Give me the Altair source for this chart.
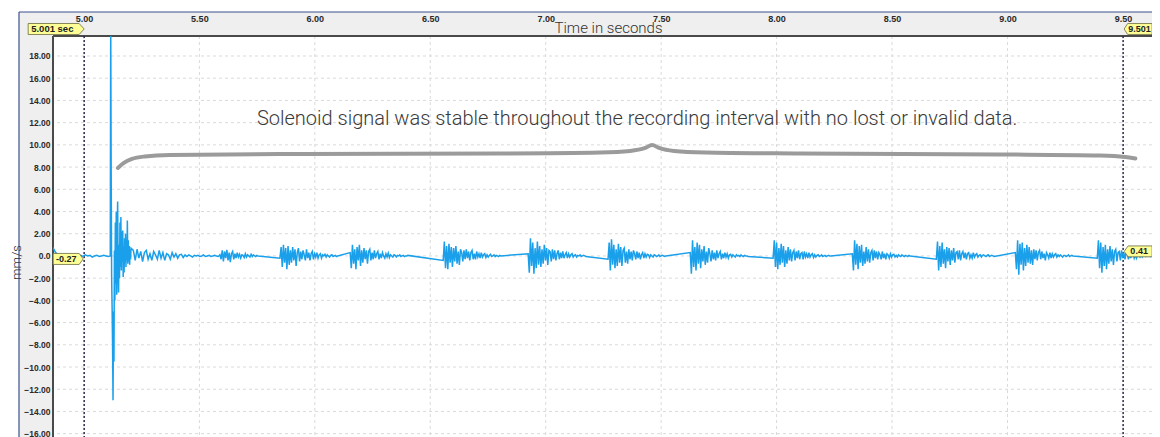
import altair as alt
import pandas as pd

# ---------------- axis ticks / domains ----------------
x_ticks = [5.0, 5.5, 6.0, 6.5, 7.0, 7.5, 8.0, 8.5, 9.0, 9.5]
y_ticks = [-16, -14, -12, -10, -8, -6, -4, -2, 0, 2, 4, 6, 8, 10, 12, 14, 16, 18]
time_domain = [4.866, 9.626]
vel_domain = [-16.3, 19.8]

# ---------------- signal (mm/s) ----------------
pre_trigger = [0.75, 0.35, 0.1, -0.15, -0.05, 0.1, -0.1, 0.05, -0.05, 0.1, 0.0, -0.1, 0.05,
               -0.05, 0.1, 0.0, 0.05, -0.1, 0.0, 0.05, -0.05, 0.0, 0.05, 0.0, -0.05]
transient = [0.0, 21.0, 7.5, -2.0, -4.6, -8.0, -13.0, -5.0, -9.5, 0.5,
             -4.0, 3.0, -2.5, 4.0, -3.5, 2.0, 4.9, -1.5, -3.3, 1.0,
             -2.0, 3.0, -1.0, 3.5, -1.3, 2.2, -0.5, 2.3, -1.9, 0.8,
             -1.5, 1.6, -0.6, 2.0, -1.0, 1.2, -0.4, 3.2, -0.7, 1.4,
             -0.5, 0.9, -0.8, 0.6, -0.3, 0.7]
ring_down = [0.5, -0.4, 0.6, -0.2, 0.4, -0.5, 0.3, 0.5, -0.3, 0.2, -0.4, 0.4, 0.1, -0.3, 0.5,
             -0.2, 0.3, -0.4, 0.2, 0.1, -0.3, 0.3, -0.1, 0.2, -0.2, 0.1, 0.15, -0.15, 0.1, -0.05,
             0.1, 0.0, -0.1, 0.05, 0.0, 0.05, -0.05, 0.0, 0.1, -0.05, 0.0, 0.05, -0.05, 0.0, 0.05,
             0.0, -0.05]
burst_01 = [0.1, -0.3, 0.5, -0.5, 0.4, -0.2, 0.55, -0.4, 0.3, -0.55, 0.2, 0.4, -0.3, 0.2, -0.2,
            0.3, -0.1, 0.15, -0.2, 0.1, 0.05, -0.15, 0.2, -0.1, 0.1, 0.0, -0.1, 0.15, -0.05, 0.1,
            0.0, -0.05, 0.05, 0.0]
burst_02 = [-0.2, 0.8, -1.0, 1.0, -0.6, 0.7, -1.2, 0.9, -0.8, 0.5,
            -0.6, 0.8, -0.4, 0.6, -0.9, 0.3, 0.7, -0.5, 0.4,
            -0.3, 0.5, 0.1, -0.4, 0.6, -0.2, 0.3, -0.4, 0.2, 0.4, -0.3, 0.2, -0.1, 0.3, -0.2, 0.1,
            0.2, -0.2, 0.1, 0.0, 0.15, -0.1, 0.1, 0.0, -0.1, 0.05, 0.1, -0.05, 0.0, 0.05, -0.05, 0.0]
burst_03 = [0.3, -1.1, 1.0, -0.7, 0.6, -1.2, 0.8, -0.4, 1.0, -0.9,
            0.5, -0.6, 0.7, -0.3, 0.5, -0.7, 0.4, 0.6, -0.4,
            0.3, -0.3, 0.5, -0.2, 0.2, 0.4, -0.3, 0.2, -0.2, 0.3, 0.0, -0.2, 0.2, -0.1, 0.25, -0.15,
            0.1, 0.0, -0.1, 0.1, 0.05, -0.1, 0.05, 0.0, 0.1, -0.05, 0.0, 0.05, -0.05, 0.0, 0.0, 0.05]
burst_04 = [-0.4, 1.3, -1.1, 0.9, -1.2, 1.1, -0.6, 0.8, -1.0, 0.7,
            -0.5, 0.9, -0.7, 0.4, -0.8, 0.6, 0.3, -0.5, 0.5,
            -0.3, 0.6, -0.2, 0.4, -0.4, 0.3, 0.5, -0.3, 0.2, -0.3, 0.4, -0.1, 0.2, -0.2, 0.3, -0.1,
            0.1, 0.2, -0.15, 0.1, -0.1, 0.05, 0.15, -0.05, 0.0, 0.1, -0.05, 0.05, 0.0, -0.05, 0.05, 0.0]
burst_05 = [0.2, -1.5, 1.6, -0.9, 1.2, -1.6, 0.7, -1.1, 1.3, -0.8,
            0.9, -1.0, 0.6, -0.7, 1.0, -0.4, 0.7, -0.8, 0.5,
            0.4, -0.5, 0.6, -0.3, 0.5, -0.4, 0.2, 0.5, -0.3, 0.3, -0.2, 0.4, -0.2, 0.1, 0.3, -0.2,
            0.2, -0.1, 0.1, 0.2, -0.1, 0.05, 0.1, -0.1, 0.05, 0.0, 0.1, -0.05, 0.0, 0.05, 0.0, -0.05]
burst_06 = [-0.3, 1.2, -1.3, 1.5, -0.8, 1.0, -1.1, 0.6, -0.9, 1.1,
            -0.6, 0.8, -0.9, 0.5, 0.7, -0.6, 0.4, -0.7, 0.6,
            -0.3, 0.4, -0.4, 0.5, 0.2, -0.3, 0.4, -0.2, 0.3, -0.3, 0.1, 0.3, -0.2, 0.2, -0.1, 0.15,
            0.1, -0.15, 0.1, 0.0, -0.1, 0.1, 0.05, -0.05, 0.0, 0.1, -0.05, 0.0, 0.05, 0.0, -0.05, 0.0]
burst_07 = [0.3, -1.6, 1.4, -1.0, 0.8, -1.3, 1.2, -0.7, 1.0, -1.1,
            0.6, -0.5, 0.9, -0.8, 0.4, -0.6, 0.7, 0.2, -0.5,
            0.5, -0.3, 0.3, -0.4, 0.5, -0.2, 0.2, 0.4, -0.3, 0.2, -0.2, 0.3, -0.1, 0.2, -0.2, 0.1,
            0.15, -0.1, 0.1, 0.0, -0.1, 0.1, 0.0, 0.05, -0.05, 0.1, 0.0, -0.05, 0.05, 0.0, 0.0, -0.05]
burst_08 = [-0.2, 1.4, -1.0, 1.2, -1.2, 0.7, -0.8, 1.1, -0.6, 0.9,
            -1.0, 0.5, -0.7, 0.8, -0.4, 0.6, -0.5, 0.3, 0.5,
            -0.4, 0.4, -0.2, 0.5, -0.3, 0.2, 0.3, -0.3, 0.4, -0.1, 0.2, -0.2, 0.3, -0.1, 0.1, 0.2,
            -0.15, 0.1, -0.1, 0.05, 0.1, -0.05, 0.0, 0.1, -0.05, 0.0, 0.05, -0.05, 0.0, 0.05, 0.0, 0.0]
burst_09 = [0.2, -1.3, 1.4, -0.8, 1.1, -1.2, 0.9, -0.6, 1.0, -0.9,
            0.4, -0.7, 0.8, -0.5, 0.6, -0.6, 0.3, 0.5, -0.4,
            0.5, -0.2, 0.4, -0.3, 0.3, 0.1, -0.3, 0.4, -0.2, 0.2, -0.3, 0.2, 0.1, -0.2, 0.2, -0.1,
            0.1, 0.15, -0.1, 0.05, -0.1, 0.1, 0.0, -0.05, 0.1, 0.0, -0.05, 0.05, 0.0, -0.05, 0.05, 0.0]
burst_10 = [-0.3, 1.3, -1.3, 0.9, -1.0, 1.2, -0.7, 0.6, -1.1, 0.8,
            -0.5, 0.7, -0.8, 0.5, -0.4, 0.7, -0.6, 0.3, 0.4,
            -0.3, 0.5, -0.4, 0.2, 0.4, -0.2, 0.3, -0.3, 0.2, 0.3, -0.2, 0.1, -0.2, 0.3, -0.1, 0.1,
            0.2, -0.1, 0.05, 0.1, -0.1, 0.05, 0.1, 0.0, -0.05, 0.05, 0.1, -0.05, 0.0, 0.05, 0.0, -0.05]
burst_11 = [0.3, -1.2, 1.4, -1.7, 1.1, -0.8, 1.2, -1.3, 0.7, -0.9,
            1.0, -0.6, 0.8, -0.7, 0.5, -0.8, 0.6, -0.3, 0.5,
            -0.4, 0.3, 0.5, -0.3, 0.4, -0.2, 0.2, -0.4, 0.3, 0.1, -0.2, 0.3, -0.2, 0.2, -0.1, 0.1,
            0.2, -0.1, 0.1, -0.05, 0.1, 0.0, -0.1, 0.05, 0.05, -0.05, 0.0, 0.1, -0.05, 0.0, 0.05, 0.0]
burst_12 = [-0.2, 1.4, -1.1, 1.2, -1.5, 0.8, -0.9, 1.0, -1.2, 0.6,
            -0.7, 0.9, -0.5, 0.6, -0.8, 0.4, 0.6, -0.5, 0.3,
            0.4, -0.4, 0.5, -0.2, 0.3, -0.3, 0.4, 0.2, -0.3, 0.3, -0.2, 0.2, 0.3, -0.2, 0.1, -0.2,
            0.2, 0.1, -0.1, 0.15, -0.1, 0.05, 0.1, -0.05, 0.0, 0.05, 0.0, -0.05, 0.05, 0.0]
record_end = [0.02]

# (segment start time s, sample interval s, values)
segment_starts = [4.866, 5.114, 5.214, 5.589, 5.849, 6.153, 6.556, 6.924, 7.270,
                  7.626, 7.985, 8.328, 8.692, 9.034, 9.389, 9.66]
segment_steps = [0.010, 0.002, 0.008, 0.005, 0.005, 0.005, 0.005, 0.005, 0.005,
                 0.005, 0.005, 0.005, 0.005, 0.005, 0.005, 0.005]
segment_values = [pre_trigger, transient, ring_down, burst_01, burst_02, burst_03, burst_04,
                  burst_05, burst_06, burst_07, burst_08, burst_09, burst_10, burst_11,
                  burst_12, record_end]

# ---------------- cursors / annotation ----------------
cursor_t = [5.001, 9.501]
cursor_v = [-0.27, 0.41]
cursor_time_text = ["5.001 sec", "9.501"]
cursor_value_text = ["-0.27", "0.41"]

note_text = ["Solenoid signal was stable throughout the recording interval with no lost or invalid data."]
note_t = [7.396]
note_v = [12.33]

brace_t = [5.147, 5.173, 5.208, 5.264, 5.373, 5.936, 6.802, 7.236, 7.366, 7.431, 7.461,
           7.491, 7.556, 7.691, 8.102, 8.969, 9.402, 9.510, 9.554]
brace_v = [7.92, 8.37, 8.73, 8.955, 9.09, 9.18, 9.225, 9.315, 9.45, 9.72, 9.99,
           9.72, 9.45, 9.315, 9.225, 9.135, 9.045, 8.91, 8.775]

# ---------------- build tables ----------------
rows = []
for start, step, vals in zip(segment_starts, segment_steps, segment_values):
    for i, v in enumerate(vals):
        rows.append({"t": round(start + i * step, 5), "v": v})
sig = pd.DataFrame(rows)
cur = pd.DataFrame({"t": cursor_t, "v": cursor_v, "tt": cursor_time_text, "vt": cursor_value_text})
note = pd.DataFrame({"t": note_t, "v": note_v, "label": note_text})
brace = pd.DataFrame({"t": brace_t, "v": brace_v})
xt = pd.DataFrame({"t": x_ticks})
yt = pd.DataFrame({"v": y_ticks})
one = pd.DataFrame({"k": [0]})

W, H = 1099, 401
FONT = "Liberation Sans"

xs = alt.Scale(domain=time_domain, nice=False, zero=False)
ys = alt.Scale(domain=vel_domain, nice=False, zero=False)

x_axis = alt.Axis(orient="top", values=x_ticks, format=".2f", grid=False, domain=False, ticks=False,
                  labelFont=FONT, labelFontWeight="bold", labelFontSize=9, labelColor="#2a2a2a",
                  labelPadding=13, zindex=1, labelOverlap=False,
                  title="Time in seconds", titleFont="Roboto", titleFontWeight=300, titleFontSize=15,
                  titleColor="#333333", titleX=555, titleY=-9, titleBaseline="middle",
                  titleAlign="center", titleAngle=0)
y_axis = alt.Axis(orient="left", values=y_ticks, grid=False, domain=False, ticks=False,
                  labelExpr="datum.value == 0 ? '0.0' : format(datum.value, '.2f')",
                  labelFont=FONT, labelFontWeight="bold", labelFontSize=8.5, labelColor="#2a2a2a",
                  labelPadding=3, zindex=1, labelOverlap=False,
                  title="mm/s", titleFont="Roboto", titleFontWeight=300, titleFontSize=13,
                  titleColor="#333333", titleX=-37, titleY=226, titleAngle=270,
                  titleBaseline="middle", titleAlign="center")


def ex():
    return alt.X("t:Q", scale=xs, axis=x_axis)


def ey():
    return alt.Y("v:Q", scale=ys, axis=y_axis)


top_band = alt.Chart(one).mark_rect(fill="#efefef").encode(
    x=alt.value(-34), x2=alt.value(W + 20), y=alt.value(-24), y2=alt.value(0))
left_band = alt.Chart(one).mark_rect(fill="#efefef").encode(
    x=alt.value(-34), x2=alt.value(0), y=alt.value(-24), y2=alt.value(H + 20))
frame_top = alt.Chart(one).mark_rule(color="#3d4f8e", strokeWidth=1.2).encode(
    x=alt.value(-34), x2=alt.value(W + 20), y=alt.value(-24))
frame_left = alt.Chart(one).mark_rule(color="#3d4f8e", strokeWidth=1.2).encode(
    x=alt.value(-34), y=alt.value(-24), y2=alt.value(H + 20))
sep_top = alt.Chart(one).mark_rule(color="#4a4a4a", strokeWidth=2).encode(
    x=alt.value(0), x2=alt.value(W + 20), y=alt.value(0))
sep_left = alt.Chart(one).mark_rule(color="#4a4a4a", strokeWidth=2).encode(
    x=alt.value(0), y=alt.value(0), y2=alt.value(H + 20))

grid_x = alt.Chart(xt).mark_rule(color="#dadada", strokeWidth=1, strokeDash=[3, 3]).encode(x=ex())
grid_y = alt.Chart(yt).mark_rule(color="#dadada", strokeWidth=1, strokeDash=[3, 3]).encode(y=ey())

cursor_lines = alt.Chart(cur).mark_rule(color="#2b2d4f", strokeWidth=1.5, strokeDash=[2, 2]).encode(x=ex())

signal = alt.Chart(sig).mark_line(color="#1a9fea", strokeWidth=1.5, clip=True).encode(x=ex(), y=ey())

brace_line = alt.Chart(brace).mark_line(color="#9b9b9b", strokeWidth=4, interpolate="monotone",
                                        strokeCap="round", clip=True).encode(x=ex(), y=ey())

note_mark = alt.Chart(note).mark_text(font="Roboto", fontWeight=300, fontSize=20, color="#3a3a3a",
                                      align="center", baseline="middle").encode(
    x=ex(), y=ey(), text="label:N")

FLAG_FILL = "#ffff96"
FLAG_STROKE = "#6a6a40"
left_time_flag = "M-1,-0.196 L0.82,-0.196 L1,0 L0.82,0.196 L-1,0.196 Z"
right_time_flag = "M-1,0 L-0.75,-0.39 L1,-0.39 L1,0.39 L-0.75,0.39 Z"
left_val_flag = "M-1,-0.367 L0.733,-0.367 L1,0 L0.733,0.367 L-1,0.367 Z"
right_val_flag = "M-1,0 L-0.714,-0.39 L1,-0.39 L1,0.39 L-0.714,0.39 Z"

c0 = cur.iloc[[0]]
c1 = cur.iloc[[1]]


def flag(df, shape, size, xoff, y_enc):
    return alt.Chart(df).mark_point(shape=shape, size=size, filled=True, fill=FLAG_FILL,
                                    stroke=FLAG_STROKE, strokeWidth=0.8, opacity=1,
                                    fillOpacity=1, strokeOpacity=1, xOffset=xoff).encode(
        x=ex(), y=y_enc)


def flag_text(df, field, dx, align, y_enc, size=9):
    return alt.Chart(df).mark_text(font=FONT, fontWeight="bold", fontSize=size, color="#222222",
                                   align=align, baseline="middle", dx=dx).encode(
        x=ex(), y=y_enc, text=f"{field}:N")


flags = [
    flag(c0, left_time_flag, 3136, -28, alt.value(-7)),
    flag_text(c0, "tt", -53, "left", alt.value(-7), 9.5),
    flag(c1, right_time_flag, 784, 15, alt.value(-7)),
    flag_text(c1, "tt", 5, "left", alt.value(-7), 9),
    flag(c0, left_val_flag, 900, -16, ey()),
    flag_text(c0, "vt", -18, "center", ey()),
    flag(c1, right_val_flag, 784, 15, ey()),
    flag_text(c1, "vt", 16, "center", ey()),
]

chart = alt.layer(
    top_band, left_band, grid_x, grid_y, frame_top, frame_left, sep_top, sep_left,
    cursor_lines, signal, brace_line, note_mark, *flags
).properties(
    width=W, height=H,
    autosize=alt.AutoSizeParams(type="none"),
    padding={"left": 45, "top": 28, "right": 0, "bottom": 0},
    background="white",
).configure_view(stroke=None)

chart.save("out.html", embed_options={"renderer": "svg", "actions": False})
